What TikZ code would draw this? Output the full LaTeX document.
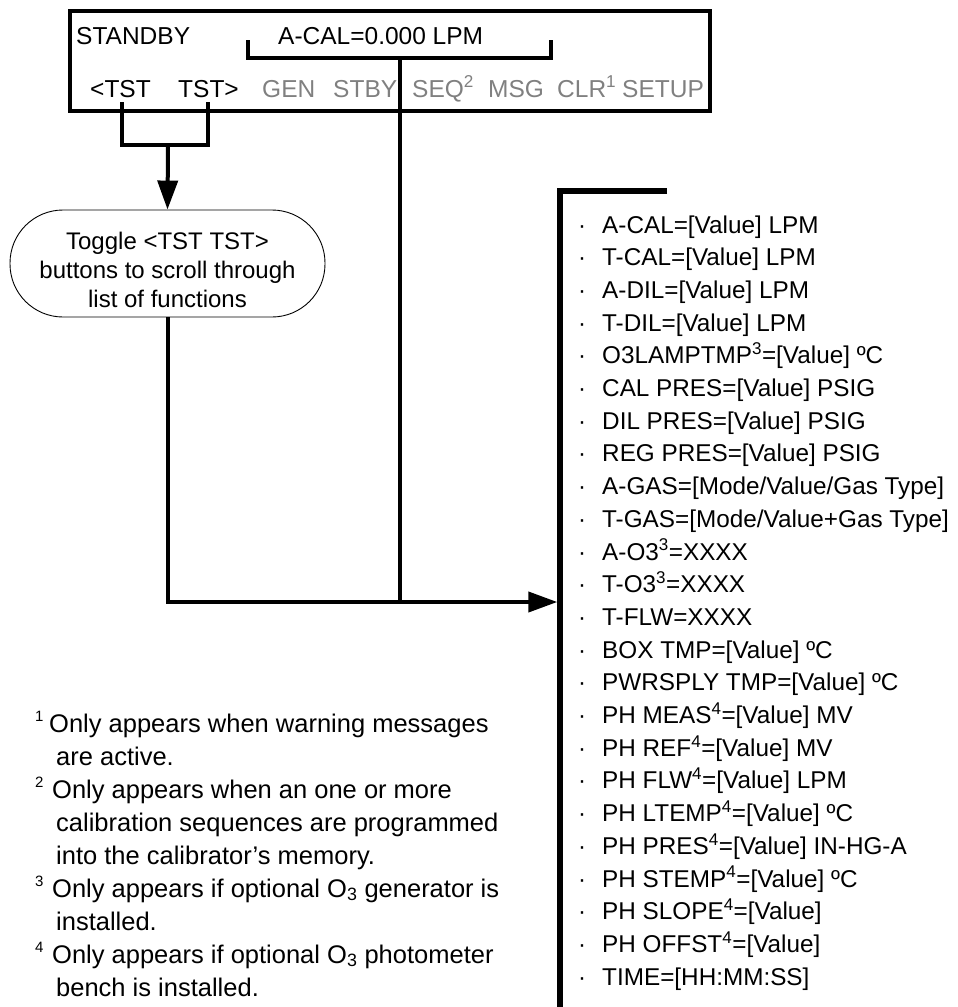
\documentclass[tikz,border=0pt]{standalone}
\usepackage{fontspec}
\setmainfont{Liberation Sans}
\usetikzlibrary{arrows.meta,positioning}
\definecolor{keygray}{RGB}{128,128,128}
\tikzset{
  dispbox/.style={draw, line width=3.3pt, minimum width=640pt,
    minimum height=100pt, inner sep=0pt},
  dtxt/.style={anchor=base west, inner sep=0pt,
    font=\fontsize{24.5}{29}\selectfont},
  dkey/.style={dtxt, text=keygray},
  tgl/.style={draw, line width=0.9pt, rounded corners=53pt,
    minimum width=315pt, minimum height=107pt, inner sep=0pt},
  tgltxt/.style={align=center, inner sep=0pt,
    font=\fontsize{24}{29}\selectfont},
  conn/.style={line width=4pt},
  brk/.style={line width=3.3pt},
  lstbrk/.style={line width=5.5pt},
  arrtip/.style={-{Triangle[length=29pt,width=20pt]}},
  itm/.style={anchor=base west, inner sep=0pt,
    font=\fontsize{24.3}{29}\selectfont},
  dot/.style={anchor=base, inner sep=0pt,
    font=\fontsize{24}{29}\selectfont},
  fn/.style={anchor=base west, inner sep=0pt,
    font=\fontsize{25.5}{33}\selectfont},
  fnmark/.style={anchor=base west, inner sep=0pt,
    font=\fontsize{15}{18}\selectfont},
}
\begin{document}
\begin{tikzpicture}[x=1pt, y=-1pt]
  \useasboundingbox (0,0) rectangle (958,1007);

  % Front panel display
  \node[dispbox] (disp) at (390,61) {};
  \node[dtxt] (stby) at (76,44) {STANDBY};
  \node[dtxt] (acaltxt) at (278,44) {A-CAL=0.000 LPM};
  \node[dtxt] (tstl) at (90,97) {<TST};
  \node[dtxt] (tstr) at (178,97) {TST>};
  \node[dkey] (gen) at (262,97) {GEN};
  \node[dkey] (stbykey) at (333,97) {STBY};
  \node[dkey] (seq) at (412,97) {SEQ\textsuperscript{2}};
  \node[dkey] (msg) at (488,97) {MSG};
  \node[dkey] (clr) at (557,97) {CLR\textsuperscript{1}};
  \node[dkey] (setup) at (622,97) {SETUP};

  % Brackets on the display
  \coordinate (acalL) at (248,40);
  \coordinate (acalR) at (551,40);
  \coordinate (acal) at (400,58);
  \draw[brk] (acalL) |- (acal) -| (acalR);
  \coordinate (tstL) at (122,102);
  \coordinate (tstR) at (208,102);
  \coordinate (tstmid) at (168,145);
  \draw[brk] (tstL) |- (tstmid) -| (tstR);

  % Toggle step
  \node[tgl] (toggle) at (167.5,263.5) {};
  \node[tgltxt] (toggletxt) at (167.5,270)
       {Toggle <TST TST>\\buttons to scroll through\\list of functions};
  \draw[conn, arrtip] (tstmid) -- (toggle.north);

  % Test function list
  \coordinate (lsttop) at (667,191);
  \coordinate (lstin) at (557.3,602);
  \draw[lstbrk] (lsttop) -- (560,191) -- (560,1012);
  \draw[conn, arrtip] (toggle.south) |- (lstin);
  \draw[brk] (acal) -- (acal |- lstin);

  \foreach \t [count=\i from 0] in {
      {A-CAL=[Value] LPM}, {T-CAL=[Value] LPM}, {A-DIL=[Value] LPM},
      {T-DIL=[Value] LPM}, {O3LAMPTMP\textsuperscript{3}=[Value] ºC},
      {CAL PRES=[Value] PSIG}, {DIL PRES=[Value] PSIG},
      {REG PRES=[Value] PSIG}, {A-GAS=[Mode/Value/Gas Type]},
      {T-GAS=[Mode/Value+Gas Type]}, {A-O3\textsuperscript{3}=XXXX},
      {T-O3\textsuperscript{3}=XXXX}, {T-FLW=XXXX},
      {BOX TMP=[Value] ºC}, {PWRSPLY TMP=[Value] ºC},
      {PH MEAS\textsuperscript{4}=[Value] MV},
      {PH REF\textsuperscript{4}=[Value] MV},
      {PH FLW\textsuperscript{4}=[Value] LPM},
      {PH LTEMP\textsuperscript{4}=[Value] ºC},
      {PH PRES\textsuperscript{4}=[Value] IN-HG-A},
      {PH STEMP\textsuperscript{4}=[Value] ºC},
      {PH SLOPE\textsuperscript{4}=[Value]},
      {PH OFFST\textsuperscript{4}=[Value]}, {TIME=[HH:MM:SS]}} {
    \node[itm] (item\i) at (602,233+32.7*\i) {\t};
    \node[dot] at (582,233+32.7*\i) {·};
  }

  % Footnotes
  \node[fnmark] at (35,721) {1};
  \node[fn] (fnA1) at (49,732) {Only appears when warning messages};
  \node[fn] (fnA2) at (56,765) {are active.};
  \node[fnmark] at (35,787) {2};
  \node[fn] (fnB1) at (52,798) {Only appears when an one or more};
  \node[fn] (fnB2) at (56,831) {calibration sequences are programmed};
  \node[fn] (fnB3) at (56,864) {into the calibrator’s memory.};
  \node[fnmark] at (35,886) {3};
  \node[fn] (fnC1) at (52,897) {Only appears if optional O\textsubscript{3} generator is};
  \node[fn] (fnC2) at (56,930) {installed.};
  \node[fnmark] at (35,952) {4};
  \node[fn] (fnD1) at (52,963) {Only appears if optional O\textsubscript{3} photometer};
  \node[fn] (fnD2) at (56,996) {bench is installed.};
\end{tikzpicture}
\end{document}
